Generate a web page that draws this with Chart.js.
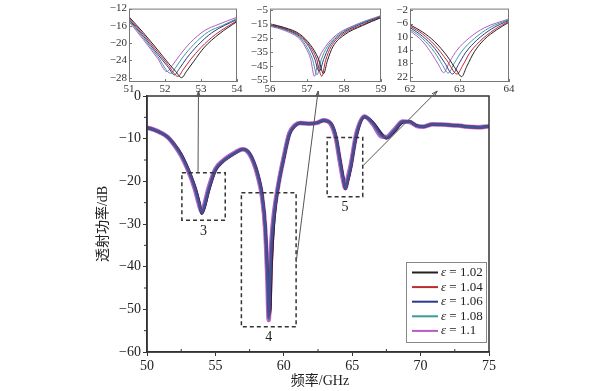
<!DOCTYPE html>
<html>
<head>
<meta charset="utf-8">
<script src="https://cdn.jsdelivr.net/npm/chart.js"></script>
<style>
body { margin: 0; background: #fff; }
#wrap { position: relative; width: 596px; height: 391px; background: #fff; }
canvas { position: absolute; top: 0; }
</style>
</head>
<body>
<div id="wrap">
	<canvas id="main" width="596" height="391" style="left:0"></canvas>
	<canvas id="in1" width="155" height="100" style="left:92px"></canvas>
	<canvas id="in2" width="155" height="100" style="left:236px"></canvas>
	<canvas id="in3" width="130" height="100" style="left:390px"></canvas>
</div>
<script>
var seriesNames = ['1.02', '1.04', '1.06', '1.08', '1.1'];
var seriesColors = ['#222222', '#c0282d', '#2b3990', '#3a9c98', '#b45cc0'];

// main plot, GHz / dB
var freq = [50, 50.5, 51, 51.5, 52, 52.5, 53, 53.5, 53.8, 54.0, 54.2, 54.5, 55, 55.5, 56, 56.5, 57, 57.4, 57.8, 58.1,
	58.4, 58.65, 58.8, 58.9, 59.0, 59.1, 59.3, 59.6, 60.0, 60.4, 60.8, 61.2, 61.8, 62.4, 62.9, 63.4, 63.8, 64.1, 64.35, 64.5,
	64.65, 64.9, 65.3, 65.9, 66.5, 67.1, 67.5, 68.1, 68.7, 69.2, 69.7, 70.2, 70.9, 71.5, 72.1, 72.7, 73.4, 74.2, 75];
var mainE102 = [-7.4, -7.9, -8.6, -9.6, -11.3, -13.6, -17.0, -21.2, -24.6, -27.6, -26.2, -22.4, -17.5, -15.5, -14.3, -13.3, -12.5, -13.0, -15.3, -18.2,
	-22.6, -30.5, -40.5, -46.0, -50.5, -40.0, -29.0, -21.2, -14.8, -9.2, -7.1, -6.3, -6.5, -6.3, -5.8, -6.2, -9.2, -14.6, -19.2, -21.8,
	-20.4, -16.9, -9.5, -4.9, -6.1, -8.6, -9.9, -8.3, -6.2, -6.0, -6.9, -7.2, -6.6, -6.7, -6.8, -6.9, -7.2, -7.3, -7.1];
var mainE104 = [-7.4, -7.9, -8.6, -9.6, -11.3, -13.7, -17.1, -21.3, -24.8, -27.5, -26.0, -22.3, -17.4, -15.5, -14.3, -13.3, -12.5, -13.0, -15.4, -18.3,
	-22.8, -30.8, -41.0, -45.0, -51.2, -40.5, -28.8, -21.1, -14.7, -9.1, -7.1, -6.3, -6.5, -6.3, -5.8, -6.2, -9.3, -14.8, -19.4, -21.8,
	-20.2, -16.7, -9.4, -4.9, -6.2, -8.8, -9.9, -8.2, -6.1, -6.0, -6.9, -7.2, -6.6, -6.7, -6.8, -6.9, -7.2, -7.3, -7.1];
var mainE106 = [-7.4, -7.9, -8.6, -9.6, -11.4, -13.8, -17.2, -21.5, -25.0, -27.4, -25.8, -22.0, -17.3, -15.4, -14.2, -13.2, -12.5, -13.1, -15.5, -18.5,
	-23.0, -31.0, -42.0, -52.0, -43.0, -35.0, -27.5, -21.0, -14.5, -9.0, -7.0, -6.3, -6.5, -6.3, -5.7, -6.3, -9.5, -15.0, -19.5, -21.7,
	-20.0, -16.5, -9.1, -4.8, -6.3, -9.0, -9.8, -8.0, -6.0, -6.0, -7.0, -7.2, -6.6, -6.7, -6.8, -6.9, -7.2, -7.3, -7.1];
var mainE108 = [-7.4, -7.9, -8.6, -9.6, -11.4, -13.9, -17.3, -21.6, -25.2, -27.3, -25.6, -21.8, -17.2, -15.4, -14.2, -13.2, -12.5, -13.1, -15.6, -18.6,
	-23.2, -31.3, -42.5, -52.3, -42.5, -34.5, -27.2, -20.9, -14.4, -8.9, -7.0, -6.3, -6.5, -6.3, -5.7, -6.3, -9.6, -15.2, -19.7, -21.7,
	-19.8, -16.3, -9.0, -4.8, -6.4, -9.2, -9.7, -7.9, -6.0, -6.0, -7.0, -7.2, -6.6, -6.7, -6.8, -6.9, -7.2, -7.3, -7.1];
var mainE110 = [-7.4, -7.9, -8.6, -9.6, -11.5, -14.0, -17.4, -21.8, -25.4, -27.2, -25.4, -21.6, -17.1, -15.3, -14.1, -13.1, -12.5, -13.2, -15.7, -18.8,
	-23.4, -31.6, -43.0, -52.5, -42.0, -34.0, -27.0, -20.8, -14.3, -8.8, -6.9, -6.3, -6.5, -6.3, -5.7, -6.4, -9.8, -15.4, -19.9, -21.6,
	-19.6, -16.1, -8.9, -4.8, -6.5, -9.4, -9.6, -7.8, -6.0, -6.1, -7.0, -7.2, -6.6, -6.7, -6.8, -6.9, -7.2, -7.3, -7.1];

// inset 1 (51-54 GHz)
var in1E102 = [[51, -13.9], [51.4, -17.6], [51.8, -21.6], [52.1, -24.7], [52.3, -26.6], [52.46, -28.0], [52.6, -26.5], [52.8, -24.2], [53.1, -20.9], [53.5, -17.9], [54, -15.0]];
var in1E104 = [[51, -14.2], [51.4, -18.0], [51.8, -22.1], [52.1, -25.2], [52.36, -27.7], [52.5, -26.2], [52.7, -23.9], [53.0, -21.0], [53.4, -18.0], [54, -14.8]];
var in1E106 = [[51, -14.5], [51.4, -18.4], [51.8, -22.6], [52.1, -25.7], [52.26, -27.35], [52.4, -25.9], [52.6, -23.5], [52.9, -20.6], [53.3, -17.6], [54, -14.5]];
var in1E108 = [[51, -14.7], [51.4, -18.8], [51.8, -23.1], [52.16, -27.0], [52.3, -25.6], [52.5, -23.2], [52.8, -20.3], [53.2, -17.4], [53.6, -15.9], [54, -14.3]];
var in1E110 = [[51, -15.0], [51.4, -19.2], [51.8, -23.6], [52.05, -26.6], [52.2, -25.2], [52.4, -22.9], [52.7, -19.9], [53.1, -17.1], [53.5, -15.6], [54, -14.0]];

// inset 2 (56-59 GHz)
var in2E102 = [[56, -14.8], [56.4, -17.5], [56.8, -22.0], [57.1, -30.0], [57.3, -39.0], [57.45, -50.0], [57.55, -41.0], [57.7, -31.0], [58.0, -22.8], [58.5, -16.0], [59, -10.4]];
var in2E104 = [[56, -15.2], [56.4, -18.0], [56.8, -22.8], [57.1, -31.5], [57.25, -39.0], [57.4, -52.0], [57.5, -41.0], [57.65, -31.0], [57.95, -22.6], [58.5, -15.4], [59, -10.0]];
var in2E106 = [[56, -15.6], [56.4, -18.5], [56.8, -23.6], [57.05, -31.0], [57.2, -39.0], [57.33, -48.5], [57.45, -40.0], [57.6, -31.0], [57.9, -22.5], [58.4, -15.6], [59, -9.7]];
var in2E108 = [[56, -16.0], [56.4, -19.0], [56.8, -24.5], [57.0, -31.5], [57.15, -40.0], [57.27, -51.0], [57.38, -40.5], [57.55, -31.0], [57.85, -22.5], [58.4, -15.0], [59, -9.3]];
var in2E110 = [[56, -16.5], [56.4, -19.6], [56.8, -25.5], [56.95, -31.0], [57.1, -40.0], [57.2, -52.0], [57.3, -41.0], [57.5, -31.0], [57.8, -22.5], [58.3, -15.6], [59, -8.9]];

// inset 3 (62-64 GHz)
var in3E102 = [[62, -6.4], [62.25, -8.5], [62.5, -11.5], [62.75, -15.8], [62.95, -20.3], [63.04, -22.0], [63.15, -18.8], [63.3, -14.5], [63.5, -10.8], [63.75, -7.9], [64, -5.6]];
var in3E104 = [[62, -6.8], [62.25, -9.1], [62.5, -12.5], [62.75, -17.2], [62.95, -21.2], [63.07, -18.5], [63.2, -15.0], [63.4, -11.5], [63.7, -7.9], [64, -5.3]];
var in3E106 = [[62, -7.2], [62.25, -9.8], [62.5, -13.5], [62.7, -17.8], [62.86, -21.2], [62.98, -18.3], [63.12, -14.8], [63.35, -11.0], [63.65, -7.6], [64, -5.0]];
var in3E108 = [[62, -7.7], [62.25, -10.5], [62.5, -14.7], [62.65, -18.3], [62.77, -20.9], [62.9, -17.8], [63.05, -14.3], [63.3, -10.5], [63.6, -7.3], [64, -4.8]];
var in3E110 = [[62, -8.2], [62.25, -11.3], [62.45, -15.3], [62.58, -18.5], [62.68, -20.8], [62.8, -17.5], [62.95, -14.0], [63.2, -10.3], [63.5, -7.3], [64, -4.6]];

var in1XTicks = [51, 52, 53, 54], in1YTicks = [-12, -16, -20, -24, -28];
var in2XTicks = [56, 57, 58, 59], in2YTicks = [-5, -15, -25, -35, -45, -55];
var in3XTicks = [62, 63, 64], in3YTicks = [-2, -6, -10, -14, -18, -22];
var in3YLabels = ['\u22122', '\u22126', '10', '14', '18', '22'];

var serif = "'Liberation Serif', 'Times New Roman', 'Noto Sans CJK SC', serif";

function minus(v) {
	return v < 0 ? '\u2212' + Math.abs(v) : String(v);
}

var insetFrame = {
	id: 'insetFrame',
	afterDraw: function(chart) {
		var ctx = chart.ctx, a = chart.chartArea;
		ctx.save();
		ctx.strokeStyle = '#777';
		ctx.lineWidth = 1;
		ctx.strokeRect(a.left + 0.5, a.top + 0.5, a.right - a.left - 1, a.bottom - a.top - 1);
		ctx.beginPath();
		chart.scales.x.ticks.forEach(function(t) {
			var px = Math.round(chart.scales.x.getPixelForValue(t.value)) + 0.5;
			ctx.moveTo(px, a.bottom); ctx.lineTo(px, a.bottom - 3);
		});
		chart.scales.y.ticks.forEach(function(t) {
			var py = Math.round(chart.scales.y.getPixelForValue(t.value)) + 0.5;
			ctx.moveTo(a.left, py); ctx.lineTo(a.left + 3, py);
		});
		ctx.stroke();
		ctx.restore();
	}
};

function makeInset(id, xmin, xmax, ymin, ymax, xt, yt, ylab, sets, yw, pr) {
	var ds = [];
	for (var i = 0; i < sets.length; i++) {
		ds.push({
			label: seriesNames[i],
			data: sets[i].map(function(p) { return {x: p[0], y: p[1]}; }),
			borderColor: seriesColors[i],
			borderWidth: 1,
			pointRadius: 0,
			cubicInterpolationMode: 'monotone',
			fill: false
		});
	}
	return new Chart(document.getElementById(id), {
		type: 'line',
		data: {datasets: ds},
		options: {
			responsive: false,
			animation: false,
			layout: {padding: {top: 3, right: pr, left: 0, bottom: 0}},
			plugins: {legend: {display: false}, tooltip: {enabled: false}},
			scales: {
				x: {
					type: 'linear', min: xmin, max: xmax,
					afterBuildTicks: function(s) { s.ticks = xt.map(function(v) { return {value: v}; }); },
					afterFit: function(s) { s.height = 18; },
					grid: {drawOnChartArea: false, drawTicks: false},
					border: {display: false},
					ticks: {font: {family: serif, size: 11}, color: '#333', padding: 1, maxRotation: 0, autoSkip: false,
						callback: function(v) { return String(v); }}
				},
				y: {
					type: 'linear', min: ymin, max: ymax,
					afterBuildTicks: function(s) { s.ticks = yt.map(function(v) { return {value: v}; }); },
					afterFit: function(s) { s.width = yw; },
					grid: {drawOnChartArea: false, drawTicks: false},
					border: {display: false},
					ticks: {font: {family: serif, size: 11}, color: '#333', padding: 2, autoSkip: false,
						callback: function(v) { return ylab ? ylab[yt.indexOf(v)] : minus(v); }}
				}
			}
		},
		plugins: [insetFrame]
	});
}

var inset1 = makeInset('in1', 51, 54, -29, -12, in1XTicks, in1YTicks, null,
	[in1E102, in1E104, in1E106, in1E108, in1E110], 37, 10);
var inset2 = makeInset('in2', 56, 59, -56, -4, in2XTicks, in2YTicks, null,
	[in2E102, in2E104, in2E106, in2E108, in2E110], 34, 10);
var inset3 = makeInset('in3', 62, 64, -23.6, -1.5, in3XTicks, in3YTicks, in3YLabels,
	[in3E102, in3E104, in3E106, in3E108, in3E110], 20, 11);
var insets = [inset1, inset2, inset3];

// dashed zoom regions on the main plot and where their arrows point in the insets
var zoomBoxes = [
	{x0: 52.55, x1: 55.72, y0: -29.1, y1: -18.0, label: '3', ax: 53.73, ay: -18.0, target: 52.93},
	{x0: 56.9, x1: 60.9, y0: -54.1, y1: -22.7, label: '4', ax: 60.9, ay: -39.0, target: 57.3},
	{x0: 63.17, x1: 65.77, y0: -23.6, y1: -9.7, label: '5', ax: 65.77, ay: -16.4, target: 62.55}
];

function arrow(ctx, x0, y0, x1, y1) {
	ctx.beginPath();
	ctx.moveTo(x0, y0);
	ctx.lineTo(x1, y1);
	ctx.stroke();
	var a = Math.atan2(y1 - y0, x1 - x0), h = 6;
	ctx.beginPath();
	ctx.moveTo(x1 - h * Math.cos(a - 0.3), y1 - h * Math.sin(a - 0.3));
	ctx.lineTo(x1, y1);
	ctx.lineTo(x1 - h * Math.cos(a + 0.3), y1 - h * Math.sin(a + 0.3));
	ctx.stroke();
}

var mainDecor = {
	id: 'mainDecor',
	afterDraw: function(chart) {
		var ctx = chart.ctx, a = chart.chartArea, xs = chart.scales.x, ys = chart.scales.y;
		ctx.save();

		// frame
		ctx.strokeStyle = '#333';
		ctx.lineWidth = 1.5;
		ctx.strokeRect(a.left, a.top, a.right - a.left, a.bottom - a.top);

		// minor ticks
		ctx.lineWidth = 1;
		ctx.beginPath();
		for (var v = 52.5; v < 75; v += 5) {
			var px = xs.getPixelForValue(v);
			ctx.moveTo(px, a.bottom); ctx.lineTo(px, a.bottom - 3);
		}
		for (var w = -55; w < 0; w += 10) {
			var py = ys.getPixelForValue(w);
			ctx.moveTo(a.left, py); ctx.lineTo(a.left - 3, py);
		}
		ctx.stroke();

		// dashed boxes, labels, arrows
		ctx.font = '14px ' + serif;
		ctx.textAlign = 'center';
		ctx.textBaseline = 'middle';
		zoomBoxes.forEach(function(b, i) {
			var l = xs.getPixelForValue(b.x0), r = xs.getPixelForValue(b.x1);
			var t = ys.getPixelForValue(b.y1), bt = ys.getPixelForValue(b.y0);
			ctx.strokeStyle = '#333';
			ctx.lineWidth = 1.5;
			ctx.setLineDash([4, 3]);
			ctx.strokeRect(l, t, r - l, bt - t);
			ctx.setLineDash([]);
			ctx.fillStyle = '#222';
			ctx.fillText(b.label, (l + r) / 2, bt + 11);
			var ins = insets[i];
			var tx = ins.canvas.offsetLeft + ins.scales.x.getPixelForValue(b.target);
			ctx.strokeStyle = '#555';
			ctx.lineWidth = 1;
			arrow(ctx, xs.getPixelForValue(b.ax), ys.getPixelForValue(b.ay), tx, 91);
		});

		// legend
		var lx = 406, ly = 262, lw = 80, lh = 80;
		ctx.fillStyle = '#fff';
		ctx.fillRect(lx, ly, lw, lh);
		ctx.strokeStyle = '#888';
		ctx.lineWidth = 1;
		ctx.strokeRect(lx + 0.5, ly + 0.5, lw, lh);
		ctx.textAlign = 'left';
		chart.data.datasets.forEach(function(d, i) {
			var y = ly + 10.5 + i * 14.6;
			ctx.strokeStyle = seriesColors[i];
			ctx.lineWidth = 2;
			ctx.beginPath();
			ctx.moveTo(lx + 6, y); ctx.lineTo(lx + 32, y);
			ctx.stroke();
			ctx.fillStyle = '#222';
			ctx.font = 'italic 13px ' + serif;
			ctx.fillText('\u03b5', lx + 35, y);
			var ew = ctx.measureText('\u03b5').width;
			ctx.font = '13px ' + serif;
			ctx.fillText(' = ' + d.label, lx + 35 + ew, y);
		});

		// axis titles
		ctx.fillStyle = '#222';
		ctx.font = '14px ' + serif;
		ctx.textAlign = 'center';
		ctx.fillText('\u9891\u7387/GHz', (a.left + a.right) / 2 + 2, 381);
		ctx.translate(103, (a.top + a.bottom) / 2);
		ctx.rotate(-Math.PI / 2);
		ctx.fillText('\u900f\u5c04\u529f\u7387/dB', 0, 0);
		ctx.restore();
	}
};

// main curves: magenta halo underneath, darker lines on top (blue last)
var mainSets = [mainE102, mainE104, mainE106, mainE108, mainE110];
var mainColors = ['#3a1a4a', '#b0283a', 'rgba(75, 40, 140, 0.6)', '#3a8c98', 'rgba(185, 85, 195, 0.95)'];
var mainWidths = [2.5, 2.5, 2.5, 2.5, 4.5];
var mainOrder = [2, 3, 0, 1, 4];
var mainDatasets = [];
for (var i = 0; i < mainSets.length; i++) {
	var pts = [];
	for (var j = 0; j < freq.length; j++) {
		pts.push({x: freq[j], y: mainSets[i][j]});
	}
	mainDatasets.push({
		label: seriesNames[i],
		data: pts,
		borderColor: mainColors[i],
		borderWidth: mainWidths[i],
		pointRadius: 0,
		cubicInterpolationMode: 'monotone',
		fill: false,
		order: mainOrder[i]
	});
}

var mainChart = new Chart(document.getElementById('main'), {
	type: 'line',
	data: {datasets: mainDatasets},
	options: {
		responsive: false,
		animation: false,
		layout: {padding: {top: 96, right: 107, left: 0, bottom: 0}},
		plugins: {legend: {display: false}, tooltip: {enabled: false}},
		scales: {
			x: {
				type: 'linear', min: 50, max: 75,
				afterFit: function(s) { s.height = 39; },
				grid: {drawOnChartArea: false, tickLength: 4, color: '#333'},
				border: {color: '#333', width: 1.5},
				ticks: {stepSize: 5, font: {family: serif, size: 14}, color: '#222', padding: 2, maxRotation: 0}
			},
			y: {
				type: 'linear', min: -60, max: 0,
				afterFit: function(s) { s.width = 147; },
				grid: {drawOnChartArea: false, tickLength: 4, color: '#333'},
				border: {color: '#333', width: 1.5},
				ticks: {stepSize: 10, font: {family: serif, size: 14}, color: '#222', padding: 2,
					callback: function(v) { return minus(v); }}
			}
		}
	},
	plugins: [mainDecor]
});
</script>
</body>
</html>
